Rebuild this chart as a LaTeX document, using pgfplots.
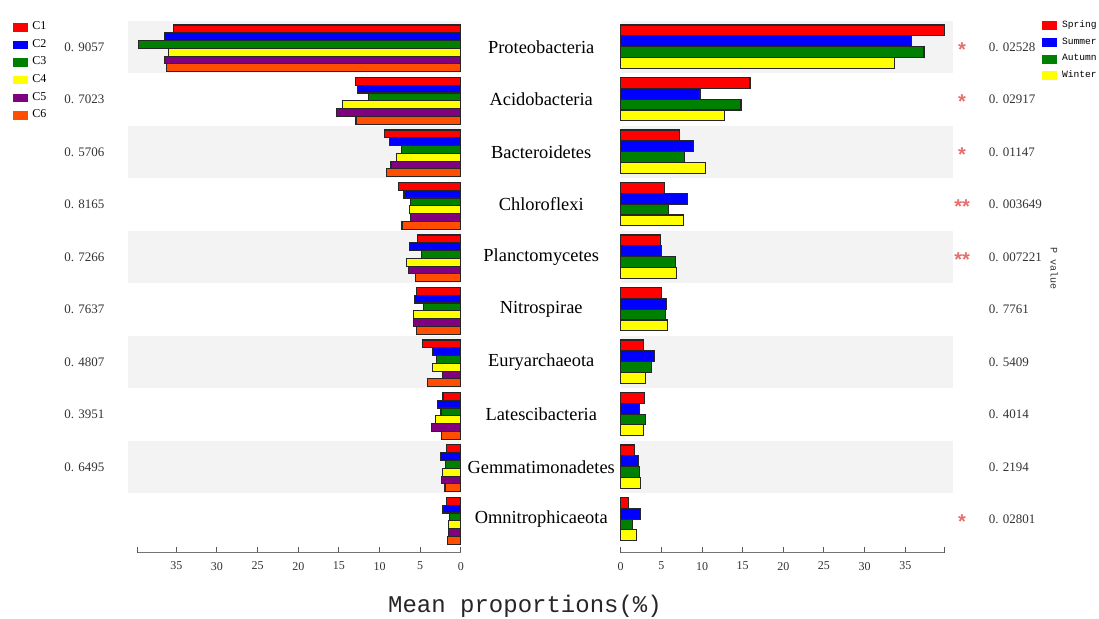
\documentclass[border=0pt]{standalone}
\usepackage{fontspec}
\setmainfont{Liberation Serif}
\newfontfamily\monofont{Liberation Mono}
\newfontfamily\starfont{Liberation Sans}
\usepackage{pgfplots}
\usepackage{pgfplotstable}
\pgfplotsset{compat=1.18}

\definecolor{cred}{RGB}{255,0,0}
\definecolor{cblue}{RGB}{0,0,255}
\definecolor{cgreen}{RGB}{0,128,0}
\definecolor{cyellow}{RGB}{255,255,0}
\definecolor{cpurple}{RGB}{128,0,128}
\definecolor{corange}{RGB}{255,78,0}
\definecolor{band}{RGB}{243,243,243}
\definecolor{star}{RGB}{232,110,110}

\pgfplotstableread{
y C1 C2 C3 C4 C5 C6
9 35.35 36.4 39.65 36.0 36.45 36.2
8 13.0 12.7 11.4 14.6 15.3 12.9
7 9.4 8.8 7.3 7.9 8.6 9.15
6 7.7 7.0 6.15 6.3 6.15 7.25
5 5.3 6.35 4.9 6.65 6.45 5.6
4 5.5 5.7 4.6 5.8 5.8 5.5
3 4.7 3.5 2.95 3.5 2.3 4.1
2 2.2 2.9 2.45 3.15 3.6 2.4
1 1.8 2.5 1.85 2.25 2.35 1.95
0 1.75 2.2 1.4 1.5 1.5 1.6
}\lefttab

\pgfplotstableread{
y Sp Su Au Wi
9 39.8 35.8 37.3 33.65
8 15.9 9.75 14.8 12.75
7 7.2 8.9 7.8 10.4
6 5.35 8.25 5.9 7.7
5 4.9 5.05 6.75 6.9
4 5.05 5.65 5.55 5.75
3 2.85 4.2 3.8 3.05
2 2.9 2.3 3.1 2.8
1 1.7 2.2 2.3 2.4
0 0.95 2.4 1.45 1.95
}\righttab

\pgfplotsset{
  panel/.style={
    scale only axis, width=161.8pt, height=266.1pt,
    xmin=0, xmax=39.8, ymin=-0.638, ymax=9.5,
    enlargelimits=false, clip=false,
    axis x line*=bottom, axis y line=none, ytick=\empty,
    xtick={0,5,...,35}, extra x ticks={39.8}, extra x tick labels={},
    tick align=inside, major tick length=3pt,
    tick style={black!65, line width=0.5pt},
    axis line style={black!55, line width=0.5pt},
    x tick label style={font=\fontsize{6}{6}\selectfont, text=black!80, yshift=-1pt},
    /pgf/number format/assume math mode=true,
    anchor=south west,
  },
  lbar/.style={xbar, bar width=0.148, draw=black!85, line width=0.55pt},
  rbar/.style={xbar, bar width=0.206, draw=black!85, line width=0.55pt},
}

\begin{document}
\begin{tikzpicture}
\useasboundingbox (0,0) rectangle (549.5pt,309.5pt);

% ---------------- left panel ----------------
\begin{axis}[panel, at={(68.65pt,33pt)}, x dir=reverse,
  legend style={at={(axis description cs:-0.384,1.005)}, anchor=north west,
    draw=none, fill=none, font=\fontsize{6}{6}\selectfont, row sep=0pt, inner sep=0pt,
    nodes={inner sep=0pt, minimum height=8.8pt},
    /tikz/every odd column/.append style={column sep=2pt}},
  legend cell align=left,
  legend image code/.code={\fill[draw=none] (0pt,-2.1pt) rectangle (7.5pt,2.1pt);},
]
\fill[band] (axis cs:0,8.5) rectangle (axis cs:40.9,9.5);
\fill[band] (axis cs:0,6.5) rectangle (axis cs:40.9,7.5);
\fill[band] (axis cs:0,4.5) rectangle (axis cs:40.9,5.5);
\fill[band] (axis cs:0,2.5) rectangle (axis cs:40.9,3.5);
\fill[band] (axis cs:0,0.5) rectangle (axis cs:40.9,1.5);

\addplot[lbar, fill=cred,    bar shift=0.346]  table[x=C1,y=y] {\lefttab};
\addplot[lbar, fill=cblue,   bar shift=0.198]  table[x=C2,y=y] {\lefttab};
\addplot[lbar, fill=cgreen,  bar shift=0.049]  table[x=C3,y=y] {\lefttab};
\addplot[lbar, fill=cyellow, bar shift=-0.099] table[x=C4,y=y] {\lefttab};
\addplot[lbar, fill=cpurple, bar shift=-0.248] table[x=C5,y=y] {\lefttab};
\addplot[lbar, fill=corange, bar shift=-0.396] table[x=C6,y=y] {\lefttab};
\legend{C1,C2,C3,C4,C5,C6}

% category labels
\begin{scope}[every node/.style={font=\fontsize{9.2}{9.2}\selectfont, anchor=center}]
\node at (axis cs:-9.88,9) {Proteobacteria};
\node at (axis cs:-9.88,8) {Acidobacteria};
\node at (axis cs:-9.88,7) {Bacteroidetes};
\node at (axis cs:-9.88,6) {Chloroflexi};
\node at (axis cs:-9.88,5) {Planctomycetes};
\node at (axis cs:-9.88,4) {Nitrospirae};
\node at (axis cs:-9.88,3) {Euryarchaeota};
\node at (axis cs:-9.88,2) {Latescibacteria};
\node at (axis cs:-9.88,1) {Gemmatimonadetes};
\node at (axis cs:-9.88,0) {Omnitrophicaeota};
\end{scope}

% left p-values
\begin{scope}[every node/.style={font=\fontsize{6.5}{6.5}\selectfont, text=black!80, anchor=center}]
\node at (axis cs:46.3,9) {0. 9057};
\node at (axis cs:46.3,8) {0. 7023};
\node at (axis cs:46.3,7) {0. 5706};
\node at (axis cs:46.3,6) {0. 8165};
\node at (axis cs:46.3,5) {0. 7266};
\node at (axis cs:46.3,4) {0. 7637};
\node at (axis cs:46.3,3) {0. 4807};
\node at (axis cs:46.3,2) {0. 3951};
\node at (axis cs:46.3,1) {0. 6495};
\end{scope}
\end{axis}

% ---------------- right panel ----------------
\begin{axis}[panel, at={(310.35pt,33pt)},
  legend style={at={(axis description cs:1.302,1.007)}, anchor=north west,
    draw=none, fill=none, font=\monofont\fontsize{4.8}{4.8}\selectfont, row sep=0pt, inner sep=0pt,
    nodes={inner sep=0pt, minimum height=8.35pt},
    /tikz/every odd column/.append style={column sep=2.5pt}},
  legend cell align=left,
  legend image code/.code={\fill[draw=none] (0pt,-2.3pt) rectangle (7.35pt,2.3pt);},
]
\fill[band] (axis cs:0,8.5) rectangle (axis cs:40.9,9.5);
\fill[band] (axis cs:0,6.5) rectangle (axis cs:40.9,7.5);
\fill[band] (axis cs:0,4.5) rectangle (axis cs:40.9,5.5);
\fill[band] (axis cs:0,2.5) rectangle (axis cs:40.9,3.5);
\fill[band] (axis cs:0,0.5) rectangle (axis cs:40.9,1.5);

\addplot[rbar, fill=cred,    bar shift=0.316]  table[x=Sp,y=y] {\righttab};
\addplot[rbar, fill=cblue,   bar shift=0.110]  table[x=Su,y=y] {\righttab};
\addplot[rbar, fill=cgreen,  bar shift=-0.096] table[x=Au,y=y] {\righttab};
\addplot[rbar, fill=cyellow, bar shift=-0.302] table[x=Wi,y=y] {\righttab};
\legend{Spring,Summer,Autumn,Winter}

% right p-values
\begin{scope}[every node/.style={font=\fontsize{6.5}{6.5}\selectfont, text=black!80, anchor=west}]
\node at (axis cs:44.4,9) {0. 02528};
\node at (axis cs:44.4,8) {0. 02917};
\node at (axis cs:44.4,7) {0. 01147};
\node at (axis cs:44.4,6) {0. 003649};
\node at (axis cs:44.4,5) {0. 007221};
\node at (axis cs:44.4,4) {0. 7761};
\node at (axis cs:44.4,3) {0. 5409};
\node at (axis cs:44.4,2) {0. 4014};
\node at (axis cs:44.4,1) {0. 2194};
\node at (axis cs:44.4,0) {0. 02801};
\end{scope}

% significance stars
\begin{scope}[every node/.style={font=\starfont\bfseries\fontsize{10}{10}\selectfont, text=star, anchor=base, inner sep=0pt, yshift=-4.6pt}]
\node at (axis cs:41.98,9) {*};
\node at (axis cs:41.98,8) {*};
\node at (axis cs:41.98,7) {*};
\node at (axis cs:41.98,6) {**};
\node at (axis cs:41.98,5) {**};
\node at (axis cs:41.98,0) {*};
\end{scope}

\node[rotate=-90, font=\monofont\fontsize{5}{5}\selectfont, text=black!80] at (axis cs:53.3,4.79) {P value};
\end{axis}

\node[font=\monofont\fontsize{12}{12}\selectfont, text=black!85] at (262.5pt,6.5pt) {Mean proportions(\%)};
\end{tikzpicture}
\end{document}
